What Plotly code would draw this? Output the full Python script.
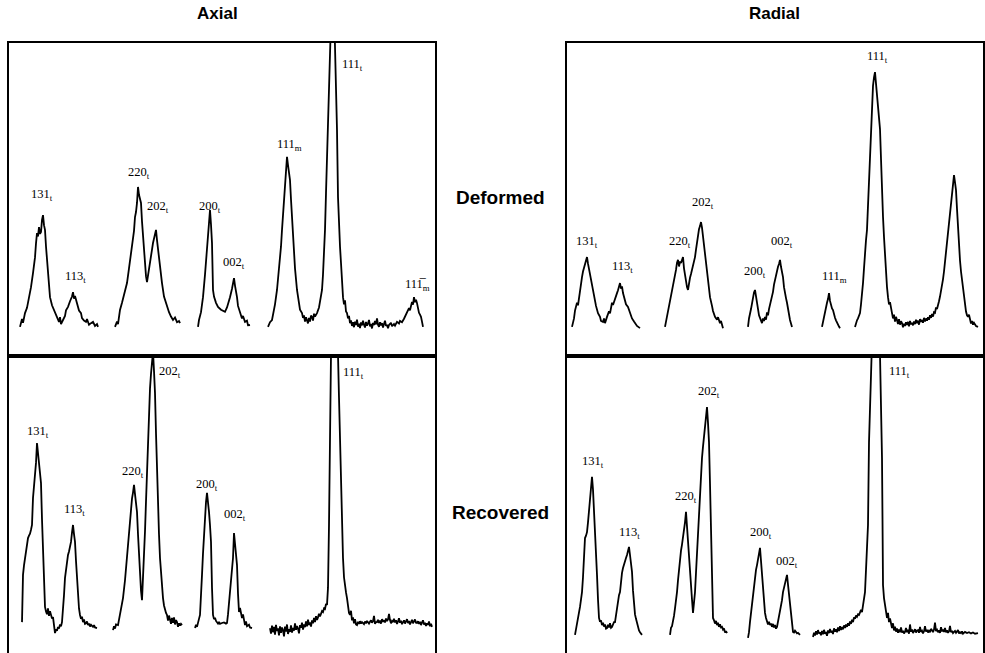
import plotly.graph_objects as go

# ---------------- DATA (scan position in arb. units, intensity in % of panel full scale) ----------------
# Axial / Deformed
axial_def_131_113 = [(11,9.3),(13,11.8),(14,10.6),(16,13.7),(18,15.4),(20,18.6),(22,22.0),(24,26.5),(26,31.5),(27,36.0),(28,39.3),(29,38.2),(30,41.2),(31,39.0),(32,39.6),(33,43.5),(34,45.0),(35,41.8),(36,40.3),(37,35.0),(38,30.7),(39,26.0),(40,22.0),(41,18.8),(43,16.2),(46,13.7),(48,12.0),(50,10.9),(51,12.4),(52,10.2),(54,11.5),(56,12.8),(57,14.6),(59,15.7),(61,17.5),(63,19.0),(64,20.4),(65,18.3),(66,19.2),(68,16.9),(70,14.5),(72,13.7),(73,12.1),(75,11.3),(77,10.9),(78,11.8),(80,10.0),(82,10.5),(84,10.9),(86,9.6),(88,10.2),(89,9.3)]
axial_def_220_202 = [(106,9.3),(108,11.0),(109,10.2),(111,14.7),(113,17.0),(115,19.5),(118,23.3),(120,28.0),(122,32.5),(123,34.8),(125,40.0),(126,44.4),(127,46.0),(128,48.9),(129,54.0),(130,51.5),(131,49.5),(132,48.9),(133,43.0),(134,38.0),(136,30.0),(137,25.5),(138,23.6),(139,26.0),(140,28.2),(141,29.7),(142,32.5),(143,34.0),(144,36.1),(145,37.5),(146,38.6),(147,40.3),(148,37.0),(149,33.9),(151,28.5),(153,23.3),(155,19.0),(158,15.7),(160,14.0),(162,12.6),(164,11.5),(166,12.3),(168,10.8),(170,11.2),(171,10.5)]
axial_def_200_002 = [(189,9.3),(190,11.5),(192,14.0),(194,18.8),(196,26.0),(197,30.5),(198,34.8),(199,40.0),(200,44.0),(201,46.6),(202,42.0),(203,36.1),(204,21.1),(205,19.0),(207,17.0),(209,15.7),(212,14.8),(214,14.5),(216,14.1),(218,15.5),(220,17.5),(221,18.8),(223,21.5),(224,23.0),(225,24.9),(226,22.5),(227,21.0),(228,18.8),(229,16.0),(231,13.7),(233,12.0),(234,12.8),(236,10.9),(238,11.3),(239,9.8),(241,9.9)]
axial_def_111 = [(259,9.3),(261,10.8),(263,11.5),(264,13.0),(266,16.5),(268,21.1),(270,27.5),(272,35.0),(273,40.3),(274,45.5),(275,50.0),(276,55.3),(277,59.0),(278,63.6),(279,61.0),(280,58.5),(281,56.2),(282,50.0),(283,44.0),(284,38.0),(286,28.0),(288,21.1),(290,16.5),(291,14.8),(293,13.7),(294,12.2),(295,13.0),(296,11.0),(297,12.4),(298,11.5),(299,10.4),(300,12.2),(301,11.0),(302,12.9),(303,12.5),(304,11.3),(305,13.5),(306,12.6),(308,13.7),(310,15.5),(311,17.0),(313,21.1),(314,26.0),(315,32.0),(316,40.3),(317,52.0),(318,66.0),(319,82.8),(320,92.0),(321,100.5),(322,110.0),(323.5,124.0),(325,112.0),(326,100.5),(327,86.0),(328,72.2),(329,50.8),(330,41.0),(331,35.0),(332,29.7),(333,23.5),(334,18.8),(335,16.5),(336,17.8),(337,14.2),(338,13.7),(339,12.0),(340,12.8),(341,10.5),(342,11.4),(343,9.6),(344,10.8),(345,9.2),(346,11.0),(347,9.9),(348,11.6),(349,9.4),(350,10.3),(351,8.9),(352,10.7),(353,9.8),(354,11.3),(355,10.0),(356,9.1),(357,10.9),(358,9.7),(359,10.4),(360,11.5),(361,9.5),(362,10.2),(363,8.8),(364,10.6),(365,9.9),(366,11.2),(367,10.1),(368,12.0),(369,10.0),(370,9.3),(371,10.8),(372,9.8),(373,10.5),(374,9.1),(375,10.2),(376,11.3),(377,9.6),(378,10.0),(379,8.9),(380,9.9),(382,10.6),(383,9.5),(385,10.2),(386,9.7),(388,10.9),(390,10.4),(391,11.2),(393,10.8),(395,11.9),(396,12.6),(398,13.7),(399,14.4),(400,15.3),(401,14.6),(402,16.5),(403,17.3),(404,16.4),(405,18.8),(406,17.2),(407,18.0),(408,16.9),(409,15.0),(410,13.8),(411,13.2),(412,12.5),(413,11.0),(414,9.3)]

# Radial / Deformed
radial_def_131_113 = [(5,9.3),(7,12.0),(8,14.5),(10,17.0),(11,16.2),(13,21.5),(15,25.2),(16,27.0),(17,28.3),(18,29.7),(19,30.5),(20,31.6),(21,29.5),(22,27.8),(23,25.2),(24,24.0),(26,20.1),(27,18.6),(29,16.0),(31,13.7),(33,12.5),(34,11.2),(36,10.9),(37,12.0),(38,10.5),(40,12.5),(42,14.3),(43,13.6),(45,17.0),(46,16.3),(48,18.6),(50,20.1),(51,21.0),(52,22.0),(53,23.3),(54,21.5),(55,22.2),(56,20.1),(58,18.0),(59,16.5),(61,15.7),(63,13.5),(65,12.0),(67,11.0),(68,10.5),(70,9.6),(73,8.9)]
radial_def_220_202 = [(98,9.3),(100,12.5),(101,14.0),(103,17.0),(105,20.5),(107,23.8),(108,25.2),(109,27.5),(110,29.8),(111,30.7),(112,28.6),(113,30.2),(114,29.7),(115,31.0),(116,31.6),(117,28.0),(118,25.5),(119,23.0),(120,22.0),(121,21.1),(122,23.5),(123,25.0),(124,26.2),(125,27.5),(126,28.5),(127,30.2),(128,31.6),(129,34.0),(130,36.8),(131,39.3),(132,40.5),(133,41.5),(134,42.8),(135,41.0),(136,38.0),(137,35.5),(138,33.0),(139,30.0),(140,27.5),(141,24.0),(142,21.5),(143,18.8),(145,16.0),(146,14.4),(148,12.5),(150,11.6),(151,12.4),(153,10.5),(154,11.2),(156,8.9)]
radial_def_200_002 = [(181,9.3),(182,12.0),(184,15.0),(185,17.0),(186,19.5),(187,20.3),(188,21.1),(189,19.0),(190,17.6),(191,15.7),(192,13.0),(193,12.2),(194,11.0),(195,10.5),(196,12.0),(197,11.2),(198,12.5),(199,11.6),(200,13.9),(201,13.0),(202,15.0),(203,16.2),(204,17.5),(205,18.8),(206,20.5),(207,22.8),(208,24.5),(209,26.0),(210,27.5),(211,28.5),(212,29.4),(213,30.7),(214,28.5),(215,27.0),(216,25.2),(217,22.0),(218,19.5),(219,18.5),(220,17.0),(221,14.8),(222,13.0),(223,11.5),(224,10.4),(225,9.3)]
radial_def_111m = [(255,9.3),(256,11.0),(257,12.2),(258,13.7),(259,15.5),(260,17.0),(261,18.2),(262,20.1),(263,17.6),(264,16.0),(265,15.2),(266,14.7),(267,13.0),(268,12.2),(269,11.4),(270,10.5),(271,10.0),(272,9.4),(273,8.9)]
radial_def_111t = [(288,9.3),(289,10.6),(290,11.4),(291,12.0),(292,13.0),(293,13.7),(294,16.5),(295,19.5),(296,23.3),(297,28.0),(298,33.5),(299,37.0),(300,40.3),(301,48.0),(302,57.0),(303,66.8),(304,74.0),(305,81.0),(306,86.3),(307,89.0),(308,90.7),(309,87.0),(310,83.1),(311,79.0),(312,76.5),(313,72.5),(314,63.0),(315,51.1),(316,44.5),(317,38.0),(318,31.9),(319,26.5),(320,22.0),(321,18.8),(322,16.5),(323,17.2),(324,14.5),(325,13.7),(326,12.0),(327,13.2),(328,11.0),(329,12.5),(330,11.5),(331,10.2),(332,11.8),(333,10.0),(334,11.1),(335,10.5),(336,9.2),(337,10.3),(338,9.6),(339,10.8),(340,9.9),(341,10.9),(342,9.5),(343,11.2),(344,10.1),(345,10.6),(346,9.8),(347,11.0),(348,10.2),(349,11.6),(350,10.5),(351,11.3),(352,10.0),(353,11.8),(354,10.9),(355,11.5),(356,10.6),(357,12.2),(358,11.0),(359,12.0),(360,11.3),(361,12.4),(362,11.6),(363,13.0),(364,12.2),(365,13.4),(366,12.6),(367,14.0),(368,13.8),(369,15.5),(370,15.0),(371,16.8),(372,17.5),(373,19.0),(374,20.5),(375,22.0),(376,24.5),(377,27.0),(378,30.0),(379,32.5),(380,34.8),(381,38.5),(382,42.0),(383,45.7),(384,48.5),(385,51.0),(386,53.0),(387,57.8),(388,55.5),(389,53.0),(390,47.0),(391,40.3),(392,35.0),(393,30.5),(394,27.0),(395,24.3),(396,21.0),(397,18.0),(398,15.7),(399,14.2),(400,13.0),(401,12.5),(402,13.2),(403,11.5),(404,10.4),(405,11.2),(406,10.0),(407,10.6),(408,9.9),(409,9.6),(411,9.3)]

# Axial / Recovered
axial_rec_131_113 = [(13,10.4),(13.5,18.0),(14,26.3),(15,29.5),(16,32.0),(17,34.5),(18,36.8),(19,38.7),(20,39.5),(21,40.2),(22,41.5),(23,43.1),(24,52.2),(25,56.0),(26,60.6),(27,64.0),(28,70.7),(29,67.5),(30,63.9),(31,61.0),(32,57.2),(33,45.0),(34,32.6),(35,22.0),(36,15.5),(37,14.0),(38,13.1),(39,15.0),(40,12.5),(41,14.1),(42,13.0),(43,11.6),(44,12.1),(45,9.0),(46,6.7),(47,8.0),(48,7.5),(49,8.8),(50,8.2),(51,9.6),(52,9.0),(53,10.4),(54,14.0),(55,19.5),(56,25.3),(57,28.5),(58,31.0),(59,33.0),(60,34.2),(61,35.8),(62,37.4),(63,40.5),(64,43.1),(65,40.0),(66,37.4),(67,31.0),(68,25.3),(69,19.0),(70,15.0),(71,12.8),(72,11.5),(73,12.2),(74,10.4),(75,11.3),(76,9.8),(77,10.0),(78,10.6),(79,9.4),(80,9.9),(81,8.9),(82,9.5),(84,8.8),(85,9.4),(86,8.6),(88,8.4)]
axial_rec_220_202 = [(104,7.7),(105,9.0),(106,8.2),(107,9.6),(109,9.4),(110,11.5),(112,14.5),(114,18.5),(116,24.5),(118,32.0),(119,37.0),(120,41.5),(121,46.0),(122,49.8),(123,52.0),(124,54.0),(125,56.6),(126,53.5),(127,50.5),(128,47.5),(129,40.0),(130,32.0),(131,26.0),(132,21.0),(133,17.8),(134,24.0),(135,32.0),(136,41.0),(137,51.0),(138,60.6),(139,72.0),(140,83.2),(141,89.0),(142,94.0),(143,97.6),(144,101.5),(145,95.0),(146,87.5),(147,74.0),(148,60.6),(149,50.0),(150,40.0),(151,32.0),(152,26.0),(153,22.0),(154,18.5),(155,16.0),(156,14.2),(157,13.5),(158,12.8),(159,10.9),(160,12.6),(161,11.4),(162,9.8),(163,11.8),(164,10.2),(165,12.0),(166,9.6),(167,11.1),(168,10.4),(169,8.8),(170,10.0),(171,9.2),(172,9.8),(173,9.4)]
axial_rec_200_002 = [(186,8.4),(187,9.5),(188,8.8),(189,10.6),(190,11.5),(191,12.8),(192,18.0),(193,26.3),(194,33.5),(195,40.7),(196,46.0),(197,50.8),(198,53.9),(199,51.0),(200,47.5),(201,43.0),(202,37.4),(203,22.0),(204,12.8),(205,11.4),(206,11.9),(207,10.8),(208,10.4),(209,9.9),(210,10.5),(211,9.8),(213,10.1),(215,10.3),(217,9.9),(218,10.1),(219,13.0),(220,16.5),(221,20.9),(222,24.5),(223,28.5),(224,32.0),(225,40.4),(226,36.0),(227,33.5),(228,29.6),(229,20.0),(230,13.8),(231,15.2),(232,12.5),(233,11.8),(234,13.0),(235,10.2),(236,9.4),(237,10.6),(238,9.0),(240,9.5),(241,8.6),(243,8.4)]
axial_rec_111 = [(261,8.4),(262,6.5),(263,9.2),(264,7.0),(265,8.8),(266,6.2),(267,9.5),(268,7.4),(269,8.3),(270,5.9),(271,9.0),(272,6.8),(273,8.6),(274,7.7),(275,5.6),(276,8.9),(277,7.2),(278,9.6),(279,6.4),(280,8.0),(281,7.1),(282,9.3),(283,6.9),(284,8.4),(285,7.5),(286,10.0),(287,7.8),(288,9.1),(289,8.2),(290,6.6),(291,9.4),(292,8.5),(293,10.2),(294,7.9),(295,9.6),(296,8.7),(297,10.6),(298,9.0),(299,11.2),(300,9.5),(301,10.3),(302,8.9),(303,11.0),(304,10.0),(305,11.8),(306,10.4),(307,12.4),(308,11.1),(309,12.0),(310,13.2),(311,12.3),(312,13.0),(313,14.1),(314,13.8),(315,15.0),(316,14.8),(317,16.5),(318,16.2),(319,22.0),(320,43.1),(321,76.8),(322,100.5),(323.5,115.0),(325.5,126.0),(327,115.0),(329,100.5),(330,86.0),(331,71.0),(332,52.0),(333,40.0),(334,32.0),(335,25.5),(336,22.0),(337,20.4),(338,18.5),(339,15.5),(340,13.5),(341,12.8),(342,14.2),(343,11.0),(344,12.0),(345,10.0),(346,11.4),(347,9.6),(348,9.4),(349,10.5),(350,9.8),(351,10.7),(352,9.9),(353,10.4),(354,10.1),(355,9.7),(356,10.6),(357,10.0),(358,10.8),(359,10.2),(360,9.9),(361,10.5),(362,11.0),(363,10.2),(364,10.7),(365,12.5),(366,9.8),(367,10.4),(368,10.4),(369,11.2),(370,10.1),(371,10.9),(372,9.9),(373,11.4),(374,10.5),(375,11.0),(376,10.3),(377,11.6),(378,10.8),(379,11.3),(380,13.2),(381,11.1),(382,10.0),(383,10.8),(384,10.4),(385,11.5),(386,10.3),(387,11.0),(388,9.8),(389,10.6),(390,11.7),(391,10.2),(392,10.9),(393,9.7),(394,10.4),(395,11.0),(396,9.9),(397,10.6),(398,11.4),(399,10.1),(400,10.8),(401,9.6),(402,10.5),(403,11.2),(404,10.0),(405,10.9),(406,11.3),(407,10.2),(408,10.1),(409,10.7),(410,9.8),(411,10.5),(412,9.4),(413,10.3),(414,11.0),(415,9.6),(416,10.2),(417,9.1),(418,10.0),(419,9.5),(420,10.6),(421,9.0),(422,9.8),(423,8.8)]

# Radial / Recovered
radial_rec_131_113 = [(8,6.1),(9,8.0),(10,9.0),(11,10.4),(12,13.0),(13,15.5),(14,18.0),(15,20.5),(16,25.5),(17,31.0),(18,38.7),(19,39.5),(20,40.7),(21,44.0),(22,48.0),(23,52.2),(24,55.5),(25,59.3),(26,55.0),(27,48.8),(28,41.0),(29,33.0),(30,26.3),(31,18.0),(32,11.8),(33,10.5),(34,11.0),(35,9.4),(36,10.2),(37,8.9),(38,9.6),(39,8.2),(40,8.4),(41,9.5),(42,8.6),(43,10.0),(44,8.5),(45,8.8),(46,9.6),(47,10.4),(48,10.4),(49,13.0),(50,15.5),(51,18.0),(52,19.5),(53,20.5),(54,24.5),(55,27.0),(56,28.6),(57,30.0),(58,31.2),(59,32.0),(60,33.0),(61,34.5),(62,35.7),(63,33.0),(64,30.5),(65,27.3),(66,21.0),(67,15.2),(68,13.0),(69,11.5),(70,9.8),(71,8.4),(72,7.6),(73,7.0),(75,6.1)]
radial_rec_220_202 = [(103,6.1),(104,8.5),(105,9.0),(106,10.4),(107,12.5),(108,15.0),(109,17.5),(110,20.5),(111,24.5),(112,28.5),(113,32.0),(114,34.5),(115,36.5),(116,38.7),(117,41.0),(118,44.0),(119,47.5),(120,42.0),(121,37.4),(122,32.0),(123,27.5),(124,22.9),(125,18.0),(126,13.5),(127,16.5),(128,20.5),(129,27.0),(130,34.0),(131,40.7),(132,47.0),(133,53.0),(134,60.0),(135,65.7),(136,69.5),(137,73.4),(138,76.0),(139,80.0),(140,82.8),(141,77.5),(142,71.0),(143,57.0),(144,43.1),(145,27.0),(146,11.8),(147,11.0),(148,9.9),(149,10.8),(150,9.4),(151,10.2),(152,8.8),(153,9.7),(154,8.6),(155,8.8),(156,7.9),(157,8.3),(158,6.9),(159,7.4),(160,6.7)]
radial_rec_200_002 = [(181,5.1),(182,7.0),(183,10.5),(184,13.8),(185,17.0),(186,20.5),(187,23.5),(188,26.5),(189,28.0),(190,29.6),(191,31.5),(192,33.5),(193,35.4),(194,31.0),(195,26.3),(196,22.0),(197,17.0),(198,13.5),(199,11.8),(200,10.4),(201,9.6),(202,10.5),(203,9.4),(204,9.9),(205,8.8),(206,9.8),(207,8.6),(208,9.4),(209,8.2),(210,8.8),(211,10.4),(212,12.0),(213,13.8),(214,15.5),(215,17.8),(216,20.5),(217,22.0),(218,23.5),(219,25.0),(220,26.3),(221,23.0),(222,20.0),(223,17.2),(224,12.5),(225,9.0),(226,7.1),(227,6.9),(228,7.5),(230,6.6),(231,6.8),(233,6.1)]
radial_rec_111 = [(246,5.4),(247,6.8),(248,5.9),(249,7.3),(250,6.2),(251,7.7),(252,6.6),(253,7.0),(254,6.0),(255,7.4),(256,6.3),(257,7.8),(258,6.5),(259,7.1),(260,5.8),(261,7.6),(262,6.7),(263,8.1),(264,6.9),(265,7.5),(266,6.4),(267,8.3),(268,7.2),(269,8.0),(270,7.0),(271,8.6),(272,7.4),(273,9.0),(274,7.8),(275,8.7),(276,8.0),(277,9.3),(278,8.4),(279,9.6),(280,8.8),(281,10.0),(282,9.2),(283,10.6),(284,9.8),(285,11.2),(286,10.4),(287,12.0),(288,11.5),(289,12.6),(290,12.2),(291,13.0),(292,12.8),(293,13.8),(294,14.5),(295,13.8),(296,16.0),(297,18.5),(298,20.5),(299,28.0),(300,35.0),(301,43.1),(302,71.0),(303,86.0),(304,100.5),(306,116.0),(308.5,126.0),(311,116.0),(313,100.5),(314,85.0),(315,65.7),(315.5,45.0),(316,22.9),(317,18.5),(318,16.0),(319,14.0),(320,11.8),(321,13.5),(322,10.4),(323,11.6),(324,9.4),(325,8.4),(326,10.0),(327,7.6),(328,8.9),(329,7.2),(330,8.3),(331,6.8),(332,7.9),(333,7.0),(334,8.6),(335,6.9),(336,7.5),(337,6.6),(338,7.1),(339,8.4),(340,7.0),(341,7.8),(342,6.5),(343,9.6),(344,7.2),(345,7.9),(346,6.7),(347,7.4),(348,8.0),(349,6.9),(350,7.6),(351,7.7),(352,6.8),(353,8.8),(354,7.1),(355,7.5),(356,6.6),(357,7.3),(358,9.0),(359,7.2),(360,7.8),(361,6.9),(362,7.5),(363,7.0),(364,8.1),(365,7.7),(366,7.0),(367,7.9),(368,10.2),(369,7.4),(370,7.8),(371,7.0),(372,7.6),(373,6.8),(374,8.7),(375,7.3),(376,7.9),(377,7.1),(378,8.4),(379,7.0),(380,7.6),(381,6.8),(382,7.3),(383,9.1),(384,7.0),(385,7.5),(386,6.7),(387,7.1),(388,7.4),(389,6.8),(390,7.2),(391,7.7),(392,6.6),(393,7.0),(394,6.7),(395,7.3),(396,6.5),(397,6.9),(398,7.1),(400,6.7),(402,7.0),(404,6.6),(406,6.9),(408,6.5),(411,6.7)]

# Peak labels: (text, position, intensity)
OV = "1\u0305"
axial_def_labels = [("131<sub>t</sub>",33,51.4),("113<sub>t</sub>",66,25.2),("220<sub>t</sub>",130,58.5),("202<sub>t</sub>",149,47.6),
                    ("200<sub>t</sub>",201,47.6),("002<sub>t</sub>",225,29.7),("111<sub>m</sub>",280,67.4),("111<sub>t</sub>",343,93.0),
                    ("11"+OV+"<sub>m</sub>",408,22.7)]
radial_def_labels = [("131<sub>t</sub>",20,36.4),("113<sub>t</sub>",55,28.4),("220<sub>t</sub>",113,36.4),("202<sub>t</sub>",136,48.9),
                     ("200<sub>t</sub>",188,26.8),("002<sub>t</sub>",215,36.4),("111<sub>m</sub>",267,25.2),("111<sub>t</sub>",310,95.5)]
axial_rec_labels = [("131<sub>t</sub>",29,74.4),("113<sub>t</sub>",65,48.1),("220<sub>t</sub>",124,60.9),("202<sub>t</sub>",161,94.6),
                    ("200<sub>t</sub>",198,56.6),("002<sub>t</sub>",226,46.5),("111<sub>t</sub>",344,94.3)]
radial_rec_labels = [("131<sub>t</sub>",26,64.3),("113<sub>t</sub>",62,40.4),("220<sub>t</sub>",119,52.5),("202<sub>t</sub>",142,87.9),
                     ("200<sub>t</sub>",194,40.4),("002<sub>t</sub>",220,30.6),("111<sub>t</sub>",332,94.6)]

column_titles = ["Axial", "Radial"]
row_titles = ["Deformed", "Recovered"]

panels = [
    ("x", "y", [axial_def_131_113, axial_def_220_202, axial_def_200_002, axial_def_111], axial_def_labels),
    ("x2", "y2", [radial_def_131_113, radial_def_220_202, radial_def_200_002, radial_def_111m, radial_def_111t], radial_def_labels),
    ("x3", "y3", [axial_rec_131_113, axial_rec_220_202, axial_rec_200_002, axial_rec_111], axial_rec_labels),
    ("x4", "y4", [radial_rec_131_113, radial_rec_220_202, radial_rec_200_002, radial_rec_111], radial_rec_labels),
]


def flatten(segments):
    xs, ys = [], []
    for seg in segments:
        for px, py in seg:
            xs.append(px)
            ys.append(py)
        xs.append(None)
        ys.append(None)
    return xs, ys


fig = go.Figure()
annotations = []
for xa, ya, segs, labels in panels:
    xs, ys = flatten(segs)
    fig.add_trace(go.Scatter(x=xs, y=ys, xaxis=xa, yaxis=ya, mode="lines",
                             line=dict(color="black", width=1.8), hoverinfo="skip",
                             showlegend=False))
    for txt, lx, ly in labels:
        annotations.append(dict(text=txt, x=lx, y=ly, xref=xa, yref=ya, showarrow=False,
                                xanchor="center", yanchor="middle",
                                font=dict(family="Liberation Serif, Times New Roman, serif", size=12.5, color="black")))

# column & row titles
title_font = dict(family="Liberation Sans, Arial, sans-serif", size=17, color="black", weight="bold")
for txt, xp in zip(column_titles, [0.2213, 0.7858]):
    annotations.append(dict(text=txt, x=xp, y=0.9786, xref="paper", yref="paper", showarrow=False,
                            xanchor="center", yanchor="middle", font=title_font))
row_font = dict(family="Liberation Sans, Arial, sans-serif", size=19, color="black", weight="bold")
for txt, yp in zip(row_titles, [0.6983, 0.2144]):
    annotations.append(dict(text=txt, x=0.5081, y=yp, xref="paper", yref="paper", showarrow=False,
                            xanchor="center", yanchor="middle", font=row_font))

left_dom = [9 / 985, 435 / 985]
right_dom = [567 / 985, 983 / 985]
top_dom = [1 - 356 / 653, 1 - 43 / 653]
bot_dom = [0.0, 1 - 356 / 653]

common = dict(showgrid=False, zeroline=False, showticklabels=False, ticks="",
              showline=True, linecolor="black", linewidth=2, fixedrange=True)

fig.update_layout(
    width=985, height=653,
    margin=dict(l=0, r=0, t=0, b=0),
    paper_bgcolor="white", plot_bgcolor="white",
    showlegend=False,
    xaxis=dict(domain=left_dom, range=[0, 426], anchor="y", mirror=True, **common),
    yaxis=dict(domain=top_dom, range=[0, 100], anchor="x", mirror=True, **common),
    xaxis2=dict(domain=right_dom, range=[0, 416], anchor="y2", mirror=True, **common),
    yaxis2=dict(domain=top_dom, range=[0, 100], anchor="x2", mirror=True, **common),
    xaxis3=dict(domain=left_dom, range=[0, 426], anchor="y3", side="top", mirror=False, **common),
    yaxis3=dict(domain=bot_dom, range=[0, 100], anchor="x3", mirror=True, **common),
    xaxis4=dict(domain=right_dom, range=[0, 416], anchor="y4", side="top", mirror=False, **common),
    yaxis4=dict(domain=bot_dom, range=[0, 100], anchor="x4", mirror=True, **common),
    annotations=annotations,
)

fig.write_html("out.html", config={"displayModeBar": False},
               post_script="document.body.style.margin='0';document.body.style.overflow='hidden';")
